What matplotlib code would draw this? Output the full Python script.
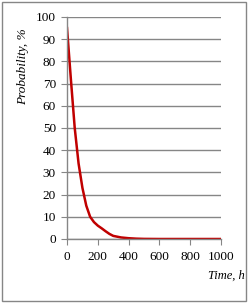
import numpy as np
import matplotlib.pyplot as plt
from matplotlib.patches import Rectangle

hours = [0, 25, 50, 75, 100, 125, 150, 175, 200, 225, 250, 275, 300, 350, 400, 450, 500,
         600, 700, 800, 900, 1000]
prob = [95, 72, 50, 34, 23, 15, 10, 7.6, 6, 4.8, 3.5, 2.3, 1.4, 0.7, 0.35, 0.15, 0.05,
        0, 0, 0, 0, 0]

plt.rcParams['font.family'] = 'Liberation Serif'
grey = '#868686'

fig = plt.figure(figsize=(2.51, 3.05), dpi=100)
fig.patches.append(Rectangle((0.006, 0.013), 0.976, 0.98, transform=fig.transFigure,
                             fill=False, edgecolor=grey, linewidth=1))
ax = fig.add_axes([0.267, 0.2164, 0.614, 0.728])
ax.plot(hours, prob, color='#C00000', linewidth=1.8)
ax.set_xlim(0, 1000)
ax.set_ylim(0, 100)
ax.set_xticks(np.arange(0, 1001, 200))
ax.set_yticks(np.arange(0, 101, 10))
ax.grid(axis='y', color=grey, linewidth=1)
ax.set_axisbelow(True)
for s in ['top', 'right']:
    ax.spines[s].set_visible(False)
for s in ['left', 'bottom']:
    ax.spines[s].set_color(grey)
    ax.spines[s].set_linewidth(1)
ax.tick_params(axis='x', colors=grey, labelcolor='black', labelsize=9.5, length=4, pad=5)
ax.tick_params(axis='y', colors=grey, labelcolor='black', labelsize=9.5, length=4, pad=4)
ax.set_ylabel('Probability, %', fontstyle='italic', fontsize=9.5, va='center')
ax.yaxis.set_label_coords(-0.286, 0.775)
fig.text(0.975, 0.095, 'Time, h', fontstyle='italic', fontsize=9, ha='right', va='center')
fig.savefig('out.png', dpi=100)
